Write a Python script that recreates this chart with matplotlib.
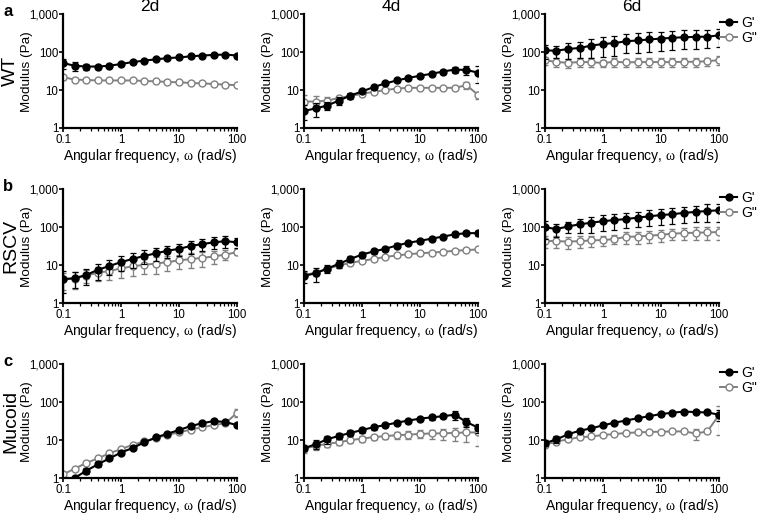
import matplotlib
matplotlib.use("Agg")
import matplotlib.pyplot as plt
from matplotlib.ticker import FixedLocator, LogLocator, NullFormatter, NullLocator
from matplotlib.lines import Line2D

plt.rcParams['font.family'] = ['Liberation Sans', 'DejaVu Sans']
plt.rcParams['mathtext.fontset'] = 'custom'
plt.rcParams['mathtext.rm'] = 'Liberation Serif'
plt.rcParams['mathtext.it'] = 'Liberation Serif:italic'
plt.rcParams['mathtext.bf'] = 'Liberation Serif:bold'

freq = [0.1, 0.158, 0.251, 0.398, 0.631, 1.0, 1.58, 2.51, 3.98, 6.31, 10.0, 15.8, 25.1, 39.8, 63.1, 100.0]

strains = ["WT", "RSCV", "Mucoid"]
days = ["2d", "4d", "6d"]
panel_letters = ["a", "b", "c"]

# WT
wt2_gp = [52, 44, 42, 42, 44, 49, 55, 60, 65, 70, 73, 78, 82, 85, 87, 82]
wt2_gp_err = [15, 12, 8, 5, 4, 3, 3, 3, 3, 3, 3, 3, 3, 3, 3, 3]
wt2_gpp = [22, 19, 18.5, 18, 18, 18, 18, 17.5, 17, 16.5, 16, 15.5, 15, 14.5, 14, 13.5]
wt2_gpp_err = [3, 1.5, 1, 1, 1, 1, 1, 1, 1, 1, 1, 1, 1, 1, 1, 1]

wt4_gp = [2.8, 3.3, 3.9, 5.3, 7.2, 9.2, 12, 15, 18, 21, 24, 27, 31, 35, 34, 29]
wt4_gp_err = [1.2, 1.4, 1.0, 1.2, 1.2, 1, 1.2, 1.5, 1.5, 2, 2, 2.5, 4, 6, 9, 14]
wt4_gpp = [5, 5, 5.3, 6.2, 7, 8, 9, 10, 11, 11.5, 11.5, 11.5, 11.5, 11.5, 13.5, 7.5]
wt4_gpp_err = [2.5, 2, 1.2, 1, 0.8, 0.8, 0.8, 0.8, 0.8, 0.8, 0.8, 0.8, 0.8, 1, 3, 1.5]

wt6_gp = [112, 110, 122, 130, 150, 165, 175, 195, 205, 218, 230, 240, 250, 255, 258, 280]
wt6_gp_err = [45, 40, 55, 60, 80, 90, 95, 100, 110, 115, 120, 125, 130, 135, 130, 140]
wt6_gpp = [62, 55, 53, 55, 55, 52, 56, 54, 55, 55, 55, 55, 56, 56, 58, 62]
wt6_gpp_err = [15, 15, 15, 15, 15, 12, 14, 13, 14, 14, 14, 14, 14, 14, 14, 16]

# RSCV
rs2_gp = [4.3, 4.5, 5.5, 7.5, 9.5, 12, 14.6, 17.5, 20.5, 24, 27, 32, 36, 40, 43, 40]
rs2_gp_err = [2.5, 2, 2.5, 3.5, 4, 5, 6, 7, 8, 9, 10, 12, 13, 14, 15, 12]
rs2_gpp = [4.2, 4.4, 5.3, 6.3, 7, 8.2, 9.3, 10.2, 11, 12, 13.3, 14.5, 15.5, 17, 19, 22]
rs2_gpp_err = [2, 2, 2, 2.5, 3, 3.5, 4, 4.5, 5, 5, 5.5, 6, 6.5, 6.5, 5.5, 4]

rs4_gp = [5.2, 6.1, 8.1, 10.8, 14.6, 19, 23, 27, 33, 39, 44, 50, 57, 65, 70, 70]
rs4_gp_err = [1.8, 2.5, 2, 2.5, 2.5, 3, 3.5, 4, 5, 5, 6, 7, 7, 8, 8, 12]
rs4_gpp = [5.5, 6.3, 8, 9.8, 11.5, 13, 14.5, 16.5, 18, 19.5, 20.5, 21.5, 22.5, 24, 25, 26]
rs4_gpp_err = [1, 1, 1, 1, 1.2, 1.2, 1.2, 1.2, 1.3, 1.3, 1.3, 1.4, 1.5, 1.5, 2, 3]

rs6_gp = [100, 90, 105, 120, 132, 145, 155, 165, 180, 195, 210, 222, 240, 255, 270, 280]
rs6_gp_err = [50, 35, 35, 50, 60, 65, 70, 70, 80, 90, 95, 100, 110, 120, 130, 140]
rs6_gpp = [44, 43, 42, 43, 45, 46, 49, 56, 57, 60, 63, 68, 70, 72, 73, 75]
rs6_gpp_err = [15, 15, 15, 15, 15, 13, 13, 20, 20, 22, 22, 23, 25, 27, 27, 28]

# Mucoid
mu2_gp = [0.75, 1.0, 1.55, 2.3, 3.3, 4.7, 6.2, 8.7, 11.8, 14.8, 18.5, 23.5, 28, 32, 30, 25]
mu2_gp_err = [0.1, 0.1, 0.25, 0.3, 0.3, 0.3, 0.4, 0.5, 0.6, 0.7, 0.8, 1, 1.5, 2, 2, 3]
mu2_gpp = [1.25, 1.75, 2.5, 3.3, 4.5, 5.8, 7.5, 9.3, 11.3, 13.8, 16, 19, 22, 25, 28, 53]
mu2_gpp_err = [0.1, 0.1, 0.1, 0.15, 0.2, 0.3, 0.3, 0.4, 0.5, 0.6, 0.7, 0.8, 1, 1.2, 1.5, 12]

mu4_gp = [6.1, 7.8, 10.5, 13, 15.5, 18.5, 22, 25, 29, 33, 37, 40, 43, 47, 30, 21.5]
mu4_gp_err = [1, 2, 2.5, 2.5, 2.5, 3, 3, 3, 3, 4, 4, 5, 5, 12, 8, 6]
mu4_gpp = [6, 7, 8, 8.8, 10, 11, 12, 12.8, 13.5, 14, 14.6, 15, 15.2, 15.5, 16, 16]
mu4_gpp_err = [1.5, 1.5, 1.5, 1.5, 1.5, 2, 2, 2, 2.5, 3, 3.5, 4, 5, 6, 7, 9]

mu6_gp = [8.3, 10.5, 14.3, 17.8, 20.5, 24.6, 29, 33, 38, 43, 49, 53, 57, 55, 54, 47]
mu6_gp_err = [1.5, 2, 2.5, 2.5, 2, 2, 2, 2, 2, 2, 2, 2, 2, 2, 3, 15]
mu6_gpp = [7.5, 9.2, 10.5, 12, 12.5, 13.7, 14.5, 15.5, 16, 16.5, 16.7, 17, 17, 15, 17, 46]
mu6_gpp_err = [1, 1, 1, 1, 1, 1, 1, 1, 1, 1, 1, 1, 1, 5, 1, 32]

panels = [
    [(wt2_gp, wt2_gp_err, wt2_gpp, wt2_gpp_err),
     (wt4_gp, wt4_gp_err, wt4_gpp, wt4_gpp_err),
     (wt6_gp, wt6_gp_err, wt6_gpp, wt6_gpp_err)],
    [(rs2_gp, rs2_gp_err, rs2_gpp, rs2_gpp_err),
     (rs4_gp, rs4_gp_err, rs4_gpp, rs4_gpp_err),
     (rs6_gp, rs6_gp_err, rs6_gpp, rs6_gpp_err)],
    [(mu2_gp, mu2_gp_err, mu2_gpp, mu2_gpp_err),
     (mu4_gp, mu4_gp_err, mu4_gpp, mu4_gpp_err),
     (mu6_gp, mu6_gp_err, mu6_gpp, mu6_gpp_err)],
]

FIG_W, FIG_H = 760, 514
fig = plt.figure(figsize=(7.6, 5.14), dpi=100)

col_x = [0.0829, 0.400, 0.717]
ax_w = 0.229
row_bottom = [0.751, 0.4105, 0.070]
ax_h = 0.221

GREY = "#808080"

for r in range(3):
    for c in range(3):
        ax = fig.add_axes([col_x[c], row_bottom[r], ax_w, ax_h])
        gp, gpe, gpp, gppe = panels[r][c]
        ax.errorbar(freq, gpp, yerr=gppe, color=GREY, ecolor=GREY, marker='o',
                    markerfacecolor='white', markeredgecolor=GREY, markersize=5,
                    markeredgewidth=1.0, lw=1.4, capsize=2.5, elinewidth=0.9,
                    capthick=0.9, zorder=3)
        ax.errorbar(freq, gp, yerr=gpe, color='black', ecolor='black', marker='o',
                    markerfacecolor='black', markeredgecolor='black', markersize=5,
                    lw=1.5, capsize=2.5, elinewidth=0.9, capthick=0.9, zorder=4)
        ax.set_xscale('log')
        ax.set_yscale('log')
        ax.set_xlim(0.1, 100)
        ax.set_ylim(1, 1000)
        ax.spines['top'].set_visible(False)
        ax.spines['right'].set_visible(False)
        ax.spines['left'].set_linewidth(1.6)
        ax.spines['bottom'].set_linewidth(1.6)
        ax.xaxis.set_major_locator(FixedLocator([0.1, 1, 10, 100]))
        ax.set_xticklabels(["0.1", "1", "10", "100"])
        ax.xaxis.set_minor_locator(LogLocator(base=10, subs=[2, 3, 4, 5, 6, 7, 8, 9]))
        ax.xaxis.set_minor_formatter(NullFormatter())
        ax.yaxis.set_major_locator(FixedLocator([1, 10, 100, 1000]))
        ax.set_yticklabels(["1", "10", "100", "1,000"])
        ax.yaxis.set_minor_locator(NullLocator())
        ax.tick_params(axis='both', which='major', length=3, width=1.2,
                       labelsize=8.3, direction='out')
        ax.tick_params(axis='y', which='major', pad=0.3)
        ax.tick_params(axis='x', which='major', pad=1)
        ax.tick_params(axis='x', which='minor', length=2.2, width=0.9, direction='out')
        ax.set_xlabel(r"Angular frequency, $\mathrm{\omega}$ (rad/s)", fontsize=10, labelpad=1)
        ax.set_ylabel("Modulus (Pa)", fontsize=9.7)
        ax_w_px = ax_w * FIG_W
        ax.yaxis.set_label_coords(-30.0 / ax_w_px, 0.5)
        for sp in ax.spines.values():
            sp.set_zorder(5)
        if r == 0:
            ax.set_title(days[c], fontsize=12.5, pad=1)
        if c == 0:
            fig.text(2.0 / FIG_W, row_bottom[r] + ax_h / 2, strains[r], rotation=90,
                     fontsize=14, ha='left', va='center')
            fig.text(0.004, row_bottom[r] + ax_h + 0.005, panel_letters[r],
                     fontsize=12, fontweight='bold', ha='left', va='center')
        if c == 2:
            handles = [
                Line2D([], [], color='black', marker='o', markerfacecolor='black',
                       markersize=5, lw=1.5),
                Line2D([], [], color=GREY, marker='o', markerfacecolor='white',
                       markeredgecolor=GREY, markersize=5, lw=1.4),
            ]
            ax.legend(handles, ["G'", 'G"'], loc='upper left',
                      bbox_to_anchor=(1.0, 1.0), frameon=False, fontsize=10,
                      handlelength=1.2, handletextpad=0.3, labelspacing=0.1,
                      borderaxespad=0.0, borderpad=0.1)

fig.savefig("out.png", dpi=100)
